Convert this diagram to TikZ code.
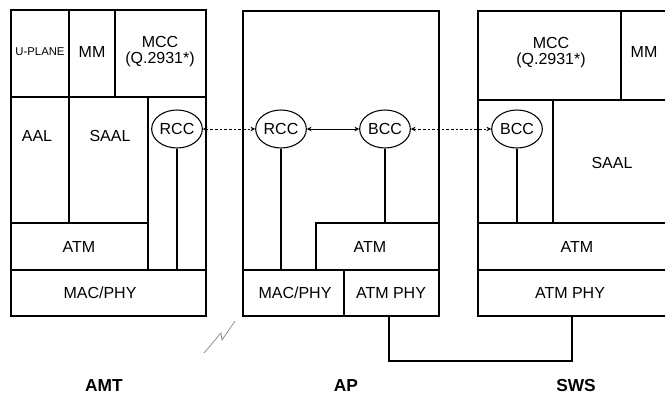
\documentclass[tikz,border=0pt]{standalone}
\usepackage{fontspec}
\setmainfont{Liberation Sans}
\usetikzlibrary{arrows.meta,shapes.geometric}

\begin{document}
\begin{tikzpicture}[x = 0.75pt, y = -0.75pt, line width = 1pt,
    txt/.style = {font = \fontsize{12}{12}\selectfont, align = center, inner sep = 0pt},
    ctrl/.style = {ellipse, draw, line width = 0.8pt, minimum width = 38pt, minimum height = 28.5pt, inner sep = 0pt, font = \fontsize{12}{12}\selectfont},
    sig/.style = {line width = 0.6pt, {Stealth[length=3.5pt,width=3.5pt]}-{Stealth[length=3.5pt,width=3.5pt]}},
    dots/.style = {dash pattern = on 2pt off 1.5pt},
    stack/.style = {font = \bfseries\fontsize{13}{13}\selectfont}]
        \useasboundingbox (0,0) rectangle (665,394);
        
        % AMT stack
        \coordinate(A) at (11,10);
        \coordinate(B) at (206,316);
        \path[draw] (A) rectangle (B);
        \path[draw] (11,97) to (206,97);
        \path[draw] (11,270) to (206,270);
        \path[draw] (11,223) to (148,223);
        \path[draw] (69,10) to (69,223);
        \path[draw] (115,10) to (115,97);
        \path[draw] (148,97) to (148,270);
        \node[txt, font = \fontsize{8.5}{9}\selectfont] (amtuplane) at (40,52) {U-PLANE};
        \node[txt] (amtmm) at (92,52) {MM};
        \node[txt] (amtmcc) at (160,52) {MCC\\(Q.2931*)};
        \node[txt] (amtaal) at (37,136) {AAL};
        \node[txt] (amtsaal) at (110,136) {SAAL};
        \node[txt] (amtatm) at (79,247) {ATM};
        \node[txt] (amtmac) at (100,293) {MAC/PHY};
        \node[ctrl] (amtrcc) at (177,129) {RCC};
        \coordinate(amtfoot) at (177,270);
        \path[draw] (amtrcc) to (amtfoot);
        
        % AP stack
        \coordinate(C) at (243,11);
        \coordinate(D) at (439,316);
        \path[draw] (C) rectangle (D);
        \path[draw] (243,270) to (439,270);
        \path[draw] (344,270) to (344,316);
        \path[draw] (316,270) to (316,223) to (439,223);
        \node[txt] (apatm) at (370,247) {ATM};
        \node[txt] (apmac) at (295,293) {MAC/PHY};
        \node[txt] (apphy) at (391,293) {ATM PHY};
        \node[ctrl] (aprcc) at (281,129) {RCC};
        \node[ctrl] (apbcc) at (385,129) {BCC};
        \coordinate(aprccfoot) at (281,270);
        \coordinate(apbccfoot) at (385,223);
        \path[draw] (aprcc) to (aprccfoot);
        \path[draw] (apbcc) to (apbccfoot);
        
        % SWS stack (runs off the right edge)
        \path[draw] (665,11) to (478,11) to (478,316) to (665,316);
        \path[draw] (478,100) to (665,100);
        \path[draw] (478,223) to (665,223);
        \path[draw] (478,270) to (665,270);
        \path[draw] (621,11) to (621,100);
        \path[draw] (553,100) to (553,223);
        \node[txt] (swsmcc) at (551,53) {MCC\\(Q.2931*)};
        \node[txt] (swsmm) at (644,52) {MM};
        \node[txt] (swssaal) at (612,163) {SAAL};
        \node[txt] (swsatm) at (577,247) {ATM};
        \node[txt] (swsphy) at (570,293) {ATM PHY};
        \node[ctrl] (swsbcc) at (517,129) {BCC};
        \coordinate(swsfoot) at (517,223);
        \path[draw] (swsbcc) to (swsfoot);
        
        % signalling
        \path[draw, sig, dots] (amtrcc) to (aprcc);
        \path[draw, sig] (aprcc) to (apbcc);
        \path[draw, sig, dots] (apbcc) to (swsbcc);
        
        % wired link AP - SWS
        \coordinate(E) at (389,316);
        \coordinate(F) at (572,316);
        \path[draw] (E) to ++(0,45) -| (F);
        
        % radio link
        \path[draw, gray, line width = 0.5pt] (204,353) to (221,333) to (222,340) to (235,321);
        
        \node[stack] (amt) at (104,386) {AMT};
        \node[stack] (ap) at (346,386) {AP};
        \node[stack] (sws) at (576,386) {SWS};
\end{tikzpicture}
\end{document}
